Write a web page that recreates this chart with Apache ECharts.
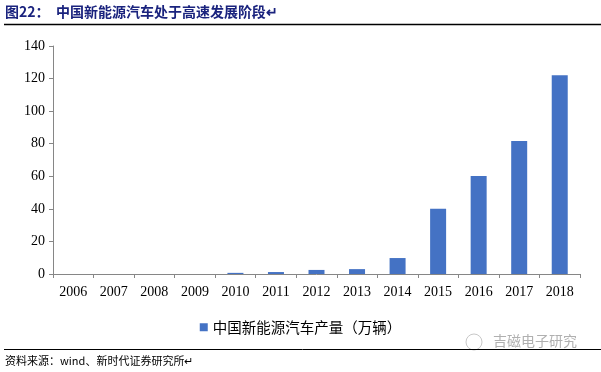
<!DOCTYPE html>
<html>
<head>
<meta charset="utf-8">
<script src="https://cdn.jsdelivr.net/npm/echarts@6/dist/echarts.min.js"></script>
<style>html,body{margin:0;padding:0;background:#fff}#c{width:601px;height:372px}</style>
</head>
<body>
<div id="c"></div>
<script>
const categories = ['2006','2007','2008','2009','2010','2011','2012','2013','2014','2015','2016','2017','2018'];
const production = [0, 0, 0, 0, 0.7, 1.2, 2.5, 3, 9.8, 40, 60.2, 81.6, 122];
const seriesName = '中国新能源汽车产量（万辆）';
const titleText = '图22：  中国新能源汽车处于高速发展阶段↵';
const sourceText = '资料来源：wind、新时代证券研究所↵';
const watermarkText = '吉磁电子研究';

const chart = echarts.init(document.getElementById('c'), null, {renderer: 'canvas'});
const serif = '"Liberation Serif", "Times New Roman", serif';
const cjk = '"Noto Sans CJK SC", "Noto Sans", sans-serif';
chart.setOption({
  animation: false,
  backgroundColor: '#fff',
  grid: {left: 53, right: 21, top: 46, bottom: 98, containLabel: false},
  legend: {
    data: [seriesName],
    left: 'center',
    top: 315,
    icon: 'rect',
    itemWidth: 8,
    itemHeight: 8,
    itemGap: 6,
    textStyle: {fontFamily: cjk, fontSize: 14.5, color: '#000'}
  },
  xAxis: {
    type: 'category',
    data: categories,
    axisLine: {lineStyle: {color: '#868686', width: 1}},
    axisTick: {show: true, alignWithLabel: false, length: 4, lineStyle: {color: '#868686'}},
    axisLabel: {fontFamily: serif, fontSize: 14, color: '#000', margin: 11, interval: 0}
  },
  yAxis: {
    type: 'value',
    min: 0, max: 140, interval: 20,
    axisLine: {show: true, lineStyle: {color: '#868686', width: 1}},
    axisTick: {show: true, length: 4, lineStyle: {color: '#868686'}},
    splitLine: {show: false},
    axisLabel: {fontFamily: serif, fontSize: 14, color: '#000', margin: 8}
  },
  series: [{
    name: seriesName,
    type: 'bar',
    data: production,
    barWidth: 16,
    itemStyle: {color: '#4472C4'}
  }],
  graphic: [
    {type: 'text', left: 5, top: 5, style: {text: titleText, font: 'bold 14px ' + cjk, fill: '#1A237E'}},
    {type: 'line', shape: {x1: 4, y1: 24.5, x2: 601, y2: 24.5}, style: {stroke: '#000', lineWidth: 1.5}},
    {type: 'text', left: 493, top: 334, style: {text: watermarkText, font: '14px ' + cjk, fill: '#b0b0b0'}},
    {type: 'circle', shape: {cx: 474, cy: 342, r: 8}, style: {fill: 'none', stroke: '#c8c8c8', lineWidth: 1}},
    {type: 'line', shape: {x1: 4, y1: 349.5, x2: 601, y2: 349.5}, style: {stroke: '#000', lineWidth: 1}},
    {type: 'text', left: 5, top: 355, style: {text: sourceText, font: '11px ' + cjk, fill: '#000'}}
  ]
});
</script>
</body>
</html>
